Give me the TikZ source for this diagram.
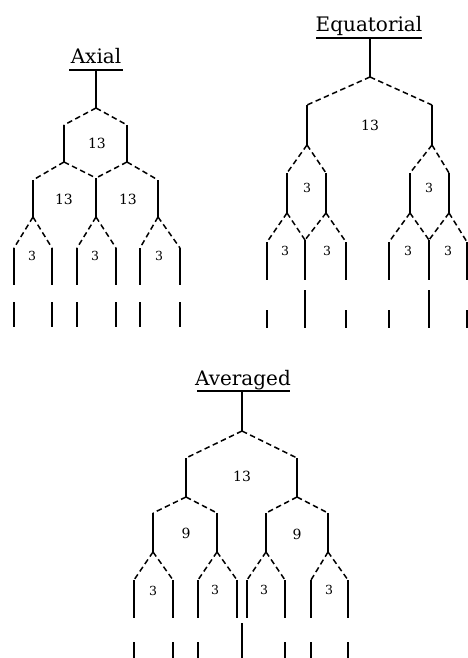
\documentclass[tikz,border=0pt]{standalone}
\usepackage{fontspec}
\setmainfont{DejaVu Serif}
\begin{document}
\begin{tikzpicture}[x=1pt,y=-1pt,
  bond/.style={line width=1.5pt},
  dbond/.style={line width=1.5pt, dash pattern=on 5.5pt off 3.5pt},
  ttl/.style={font=\fontsize{20}{24}\selectfont, anchor=base, inner sep=0pt},
  bignum/.style={font=\fontsize{14}{16}\selectfont, inner sep=0pt},
  smallnum/.style={font=\fontsize{12.5}{14}\selectfont, inner sep=0pt}]
\path[use as bounding box] (0,0) rectangle (468,658);

% ================= Axial =================
\node[ttl] (axT) at (96,64) {Axial};
\coordinate (axUL) at (69,70); \coordinate (axUR) at (123,70);
\draw[bond] (axUL) -- (axUR);
\coordinate (ax0) at (96,70); \coordinate (ax1) at (96,108);
\coordinate (axA) at (64,125); \coordinate (axB) at (127,125);
\coordinate (axA2) at (64,162); \coordinate (axB2) at (127,162);
\coordinate (axC) at (33,180); \coordinate (axD) at (96,178); \coordinate (axE) at (158,180);
\coordinate (axC2) at (33,217); \coordinate (axD2) at (96,217); \coordinate (axE2) at (158,217);
\draw[bond] (ax0) -- (ax1);
\draw[dbond] (ax1) -- (axA); \draw[dbond] (ax1) -- (axB);
\draw[bond] (axA) -- (axA2); \draw[bond] (axB) -- (axB2);
\draw[dbond] (axA2) -- (axC); \draw[dbond] (axA2) -- (axD);
\draw[dbond] (axB2) -- (axD); \draw[dbond] (axB2) -- (axE);
\draw[bond] (axC) -- (axC2); \draw[bond] (axD) -- (axD2); \draw[bond] (axE) -- (axE2);
\foreach \p/\l/\r/\n in {axC2/14/52/c, axD2/77/116/d, axE2/140/180/e}{
  \coordinate (ax\n L) at (\l,248); \coordinate (ax\n R) at (\r,248);
  \coordinate (ax\n Lb) at (\l,285); \coordinate (ax\n Rb) at (\r,285);
  \coordinate (ax\n Lt) at (\l,302); \coordinate (ax\n Rt) at (\r,302);
  \coordinate (ax\n Lu) at (\l,327); \coordinate (ax\n Ru) at (\r,327);
  \draw[dbond] (\p) -- (ax\n L); \draw[dbond] (\p) -- (ax\n R);
  \draw[bond] (ax\n L) -- (ax\n Lb); \draw[bond] (ax\n R) -- (ax\n Rb);
  \draw[bond] (ax\n Lt) -- (ax\n Lu); \draw[bond] (ax\n Rt) -- (ax\n Ru);
}
\node[bignum] (axn1) at (97,143) {13};
\node[bignum] (axn2) at (64,199) {13};
\node[bignum] (axn3) at (128,199) {13};
\node[smallnum] (axn4) at (32,256) {3};
\node[smallnum] (axn5) at (95,256) {3};
\node[smallnum] (axn6) at (159,256) {3};

% ================= Equatorial =================
\node[ttl] (eqT) at (369,32) {Equatorial};
\coordinate (eqUL) at (316,38); \coordinate (eqUR) at (422,38);
\draw[bond] (eqUL) -- (eqUR);
\coordinate (eq0) at (370,38); \coordinate (eq1) at (370,77);
\coordinate (eqA) at (307,105); \coordinate (eqB) at (432,105);
\coordinate (eqA2) at (307,145); \coordinate (eqB2) at (432,145);
\draw[bond] (eq0) -- (eq1);
\draw[dbond] (eq1) -- (eqA); \draw[dbond] (eq1) -- (eqB);
\draw[bond] (eqA) -- (eqA2); \draw[bond] (eqB) -- (eqB2);
\foreach \p/\l/\r/\m/\n in {eqA2/287/326/305/a, eqB2/410/449/429/b}{
  \coordinate (eq\n L) at (\l,173); \coordinate (eq\n R) at (\r,173);
  \coordinate (eq\n L2) at (\l,213); \coordinate (eq\n R2) at (\r,213);
  \draw[dbond] (\p) -- (eq\n L); \draw[dbond] (\p) -- (eq\n R);
  \draw[bond] (eq\n L) -- (eq\n L2); \draw[bond] (eq\n R) -- (eq\n R2);
}
\foreach \l/\m/\r/\n in {267/305/346/a, 389/429/467/b}{
  \coordinate (eq\n x) at (\l,242); \coordinate (eq\n y) at (\m,240); \coordinate (eq\n z) at (\r,242);
  \coordinate (eq\n xb) at (\l,280); \coordinate (eq\n yb) at (\m,280); \coordinate (eq\n zb) at (\r,280);
  \coordinate (eq\n xt) at (\l,310); \coordinate (eq\n yt) at (\m,290); \coordinate (eq\n zt) at (\r,310);
  \coordinate (eq\n xu) at (\l,328); \coordinate (eq\n yu) at (\m,328); \coordinate (eq\n zu) at (\r,328);
  \draw[dbond] (eq\n L2) -- (eq\n x); \draw[dbond] (eq\n L2) -- (eq\n y);
  \draw[dbond] (eq\n R2) -- (eq\n y); \draw[dbond] (eq\n R2) -- (eq\n z);
  \draw[bond] (eq\n x) -- (eq\n xb); \draw[bond] (eq\n y) -- (eq\n yb); \draw[bond] (eq\n z) -- (eq\n zb);
  \draw[bond] (eq\n xt) -- (eq\n xu); \draw[bond] (eq\n yt) -- (eq\n yu); \draw[bond] (eq\n zt) -- (eq\n zu);
}
\node[bignum] (eqn1) at (370,125) {13};
\node[smallnum] (eqn2) at (307,188) {3};
\node[smallnum] (eqn3) at (429,188) {3};
\node[smallnum] (eqn4) at (285,251) {3};
\node[smallnum] (eqn5) at (327,251) {3};
\node[smallnum] (eqn6) at (408,251) {3};
\node[smallnum] (eqn7) at (448,251) {3};

% ================= Averaged =================
\node[ttl] (avT) at (243,385) {Averaged};
\coordinate (avUL) at (197,391); \coordinate (avUR) at (290,391);
\draw[bond] (avUL) -- (avUR);
\coordinate (av0) at (242,391); \coordinate (av1) at (242,431);
\coordinate (avA) at (186,458); \coordinate (avB) at (297,458);
\coordinate (avA2) at (186,497); \coordinate (avB2) at (297,497);
\draw[bond] (av0) -- (av1);
\draw[dbond] (av1) -- (avA); \draw[dbond] (av1) -- (avB);
\draw[bond] (avA) -- (avA2); \draw[bond] (avB) -- (avB2);
\foreach \p/\l/\r/\n in {avA2/153/217/a, avB2/266/328/b}{
  \coordinate (av\n L) at (\l,513); \coordinate (av\n R) at (\r,513);
  \coordinate (av\n L2) at (\l,552); \coordinate (av\n R2) at (\r,552);
  \draw[dbond] (\p) -- (av\n L); \draw[dbond] (\p) -- (av\n R);
  \draw[bond] (av\n L) -- (av\n L2); \draw[bond] (av\n R) -- (av\n R2);
}
\foreach \p/\l/\r/\n in {avaL2/134/173/p, avaR2/198/237/q, avbL2/247/285/r, avbR2/311/348/s}{
  \coordinate (av\n L) at (\l,580); \coordinate (av\n R) at (\r,580);
  \coordinate (av\n Lb) at (\l,618); \coordinate (av\n Rb) at (\r,618);
  \draw[dbond] (\p) -- (av\n L); \draw[dbond] (\p) -- (av\n R);
  \draw[bond] (av\n L) -- (av\n Lb); \draw[bond] (av\n R) -- (av\n Rb);
}
\foreach \x/\n in {134/1, 173/2, 198/3, 285/4, 311/5, 348/6}{
  \coordinate (avt\n) at (\x,642); \coordinate (avu\n) at (\x,658);
  \draw[bond] (avt\n) -- (avu\n);
}
\coordinate (avct) at (242,623); \coordinate (avcu) at (242,658);
\draw[bond] (avct) -- (avcu);
\node[bignum] (avn1) at (242,476) {13};
\node[bignum] (avn2) at (186,533) {9};
\node[bignum] (avn3) at (297,534) {9};
\node[smallnum] (avn4) at (153,591) {3};
\node[smallnum] (avn5) at (215,590) {3};
\node[smallnum] (avn6) at (264,590) {3};
\node[smallnum] (avn7) at (329,590) {3};
\end{tikzpicture}
\end{document}
